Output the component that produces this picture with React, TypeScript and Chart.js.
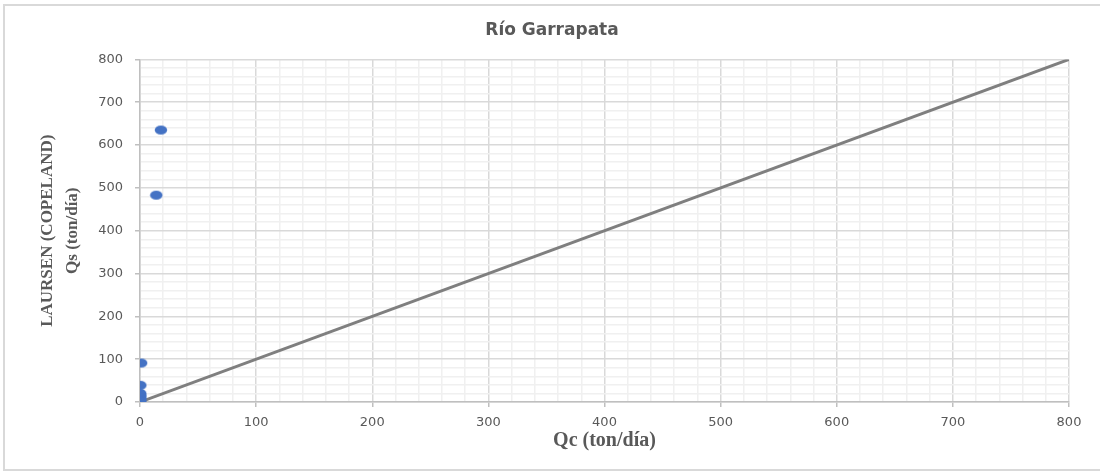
import React, { useEffect, useRef } from "react";
import { Chart, registerables } from "chart.js";

Chart.register(...registerables);

// Measured pairs: Qc (ton/día) vs Qs from Laursen (Copeland)
const qcValues = [18, 14, 1, 0.3, 0.2, 0.4, 0.1, 0.3, 0.1, 0];
const qsValues = [635, 483, 91, 39, 20, 14, 9, 5, 2, 1];

// 1:1 reference line
const refX = [0, 800];
const refY = [0, 800];

const axisMin = 0;
const axisMax = 800;
const minorStep = 20;
const majorStep = 100;

const chartTitle = "Río Garrapata";
const xTitle = "Qc (ton/día)";
const yTitle = ["LAURSEN (COPELAND)", "Qs (ton/día)"];

const MAJOR_GRID = "#d9d9d9";
const MINOR_GRID = "#f0f0f0";
const TEXT = "#595959";
const POINT = "#4472C4";

function makeMarker(): HTMLCanvasElement {
  const c = document.createElement("canvas");
  c.width = 14;
  c.height = 11;
  const g = c.getContext("2d")!;
  g.fillStyle = POINT;
  g.beginPath();
  g.ellipse(7, 5.5, 6.2, 4.6, 0, 0, Math.PI * 2);
  g.fill();
  return c;
}

const frame = {
  id: "frame",
  beforeDraw(chart: Chart) {
    const { ctx } = chart;
    ctx.save();
    ctx.fillStyle = "#ffffff";
    ctx.fillRect(0, 0, chart.width, chart.height);
    ctx.strokeStyle = "#d9d9d9";
    ctx.lineWidth = 2;
    ctx.strokeRect(4, 5, chart.width + 10, 465);
    ctx.restore();
  },
};

const isMajor = (v: number) => Math.abs(v % majorStep) < 1e-6;

export default function App() {
  const ref = useRef<HTMLCanvasElement>(null);

  useEffect(() => {
    if (!ref.current) return;
    const marker = makeMarker();
    const points = qcValues.map((x, i) => ({ x, y: qsValues[i] }));
    const line = refX.map((x, i) => ({ x, y: refY[i] }));

    const gridOpts = {
      color: (c: any) => (isMajor(c.tick?.value ?? 0) ? MAJOR_GRID : MINOR_GRID),
      lineWidth: 1.5,
      tickLength: 5,
      tickColor: (c: any) => (isMajor(c.tick?.value ?? 0) ? "#bfbfbf" : "rgba(0,0,0,0)"),
      tickWidth: 1.5,
    };

    const chart = new Chart(ref.current, {
      type: "scatter",
      data: {
        datasets: [
          {
            label: "Qs",
            data: points,
            pointStyle: marker,
            pointRadius: 6,
            backgroundColor: POINT,
            borderColor: POINT,
            order: 0,
          },
          {
            label: "1:1",
            data: line,
            showLine: true,
            borderColor: "#7f7f7f",
            borderWidth: 3,
            pointRadius: 0,
            order: 1,
          } as any,
        ],
      },
      options: {
        animation: false,
        responsive: false,
        layout: { padding: { left: 35, right: 31, top: 0, bottom: 22 } },
        plugins: {
          legend: { display: false },
          tooltip: { enabled: false },
          title: {
            display: true,
            text: chartTitle,
            color: TEXT,
            font: { family: "DejaVu Sans", size: 17, weight: "bold", lineHeight: 1.2 },
            padding: { top: 20, bottom: 19 },
          },
        },
        scales: {
          x: {
            type: "linear",
            min: axisMin,
            max: axisMax,
            grid: gridOpts,
            border: { color: "#bfbfbf", width: 1.5 },
            ticks: {
              stepSize: minorStep,
              autoSkip: false,
              maxRotation: 0,
              padding: 8,
              color: TEXT,
              font: { family: "DejaVu Sans", size: 13 },
              callback: (v: any) => (isMajor(Number(v)) ? String(v) : ""),
            },
            title: {
              display: true,
              text: xTitle,
              color: TEXT,
              font: { family: "Liberation Serif", size: 20, weight: "bold", lineHeight: 1.2 },
              padding: 0,
            },
            afterFit: (s: any) => {
              s.height = 51;
            },
          },
          y: {
            type: "linear",
            min: axisMin,
            max: axisMax,
            grid: gridOpts,
            border: { color: "#bfbfbf", width: 1.5 },
            ticks: {
              stepSize: minorStep,
              autoSkip: false,
              padding: 12,
              color: TEXT,
              font: { family: "DejaVu Sans", size: 13 },
              callback: (v: any) => (isMajor(Number(v)) ? String(v) : ""),
            },
            title: {
              display: true,
              text: yTitle,
              color: TEXT,
              font: { family: "Liberation Serif", size: 17, weight: "bold", lineHeight: 1.47 },
              padding: 0,
            },
            afterFit: (s: any) => {
              s.width = 105;
            },
          },
        },
      },
      plugins: [frame],
    });
    return () => chart.destroy();
  }, []);

  return (
    <canvas
      ref={ref}
      width={1100}
      height={475}
      style={{ position: "absolute", left: 0, top: 0, display: "block" }}
    />
  );
}
